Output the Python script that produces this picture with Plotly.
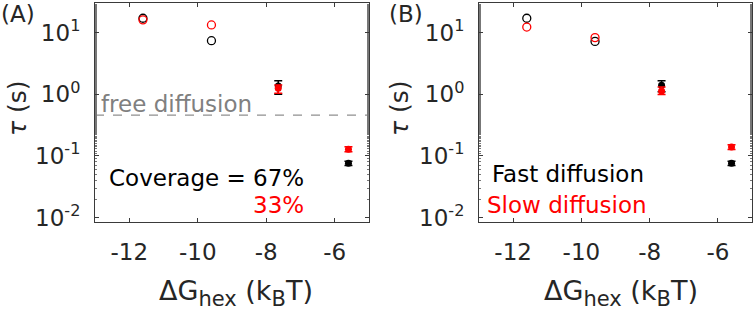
import plotly.graph_objects as go

# ---- data ----
dG = [-11.6, -9.6, -7.65, -5.6]          # ΔG_hex (kBT)
x_ticks = [-12, -10, -8, -6]
x_ticktext = ["-12", "-10", "-8", "-6"]
y_tickvals = [0.01, 0.1, 1, 10]
y_ticktext = ["10<sup>-2</sup>", "10<sup>-1</sup>", "10<sup>0</sup>", "10<sup>1</sup>"]

# Panel A: coverage 67% (black) and 33% (red)
a_cov67 = [17.1, 7.4, 1.36, 0.076]
a_cov67_up = [0, 0, 0.30, 0.006]
a_cov67_dn = [0, 0, 0.36, 0.006]
a_cov33 = [16.1, 13.3, 1.25, 0.129]
a_cov33_up = [0, 0, 0.16, 0.012]
a_cov33_dn = [0, 0, 0.21, 0.012]
free_diffusion = 0.46

# Panel B: fast (black) and slow (red) diffusion
b_fast = [17.1, 7.2, 1.40, 0.076]
b_fast_up = [0, 0, 0.26, 0.006]
b_fast_dn = [0, 0, 0.30, 0.006]
b_slow = [12.3, 8.3, 1.13, 0.140]
b_slow_up = [0, 0, 0.18, 0.012]
b_slow_dn = [0, 0, 0.14, 0.012]

W, H = 755, 313
FONT = "DejaVu Sans, Verdana, sans-serif"
xA = (95, 369)
xB = (479, 752)
ytop, ybot = 3, 222

def px(x):
    return x / W

def py(y):
    return 1 - y / H

fig = go.Figure()

def add_series(xa, ya, vals, up, dn, color):
    # open markers (first two points)
    fig.add_trace(go.Scatter(
        x=dG[:2], y=vals[:2], mode="markers", xaxis=xa, yaxis=ya,
        marker=dict(symbol="circle-open", size=8, color=color, line=dict(width=1.3, color=color)),
        showlegend=False))
    # filled markers with error bars (last two points)
    fig.add_trace(go.Scatter(
        x=dG[2:], y=vals[2:], mode="markers", xaxis=xa, yaxis=ya,
        marker=dict(symbol="circle", size=7, color=color),
        error_y=dict(type="data", symmetric=False, array=up[2:], arrayminus=dn[2:],
                     color=color, thickness=1.5, width=4),
        showlegend=False))

# free diffusion line (panel A)
fig.add_trace(go.Scatter(x=[-13, -5], y=[free_diffusion, free_diffusion], mode="lines",
                         xaxis="x", yaxis="y", line=dict(color="#909090", width=1.2, dash="dash"),
                         showlegend=False, hoverinfo="skip"))

add_series("x", "y", a_cov67, a_cov67_up, a_cov67_dn, "black")
add_series("x", "y", a_cov33, a_cov33_up, a_cov33_dn, "red")
add_series("x2", "y2", b_fast, b_fast_up, b_fast_dn, "black")
add_series("x2", "y2", b_slow, b_slow_up, b_slow_dn, "red")

axis_line = "#3a3a3a"
xcommon = dict(range=[-13, -5], tickvals=x_ticks, ticktext=x_ticktext, ticks="inside", ticklen=4,
               tickcolor=axis_line, showline=True, linecolor=axis_line, linewidth=1, mirror="allticks",
               showgrid=False, zeroline=False, automargin=False, ticklabelstandoff=9,
               tickfont=dict(family=FONT, size=23, color="#262626"))
ycommon = dict(type="log", range=[-2.07, 1.48], tickvals=y_tickvals, ticktext=y_ticktext,
               ticks="inside", ticklen=4, tickcolor=axis_line,
               showline=True, linecolor=axis_line, linewidth=1, mirror="allticks",
               showgrid=False, zeroline=False, ticklabelstandoff=9, automargin=False,
               minor=dict(ticks="inside", ticklen=2, tickcolor="#777777", showgrid=False),
               tickfont=dict(family=FONT, size=23, color="#262626"))

fig.update_layout(
    width=W, height=H, margin=dict(l=0, r=0, t=0, b=0),
    paper_bgcolor="white", plot_bgcolor="white",
    xaxis=dict(domain=[px(xA[0]), px(xA[1])], anchor="y", **xcommon),
    yaxis=dict(domain=[py(ybot), py(ytop)], anchor="x", **ycommon),
    xaxis2=dict(domain=[px(xB[0]), px(xB[1])], anchor="y2", **xcommon),
    yaxis2=dict(domain=[py(ybot), py(ytop)], anchor="x2", **ycommon),
)

def ann(text, x, y, size=23, color="#262626", xanchor="center", yanchor="middle", angle=0):
    fig.add_annotation(text=text, x=px(x), y=py(y), xref="paper", yref="paper",
                       showarrow=False, xanchor=xanchor, yanchor=yanchor, textangle=angle,
                       font=dict(family=FONT, size=size, color=color))

# panel labels
ann("(A)", 18, 14, size=23)
ann("(B)", 406, 14, size=23)
# axis titles
xlabel = ("ΔG<sub><span style='font-size:21px'>hex</span></sub> "
          "(k<sub><span style='font-size:21px'>B</span></sub>T)")
ann(xlabel, 236, 293, size=27)
ann(xlabel, 621, 293, size=27)
ann("<i>τ</i> (s)", 17, 108, size=25, angle=-90)
ann("<i>τ</i> (s)", 399, 108, size=25, angle=-90)
# in-plot texts
ann("free diffusion", 99, 104, size=23, color="#808080", xanchor="left")
ann("Coverage = 67%", 107, 178, size=23, color="black", xanchor="left")
ann("33%", 306, 205, size=23, color="red", xanchor="right")
ann("Fast diffusion", 490, 174, size=23, color="black", xanchor="left")
ann("Slow diffusion", 485, 205, size=23, color="red", xanchor="left")

fig.write_html("out.html", post_script="document.body.style.margin='0';",
               config={"displayModeBar": False})
